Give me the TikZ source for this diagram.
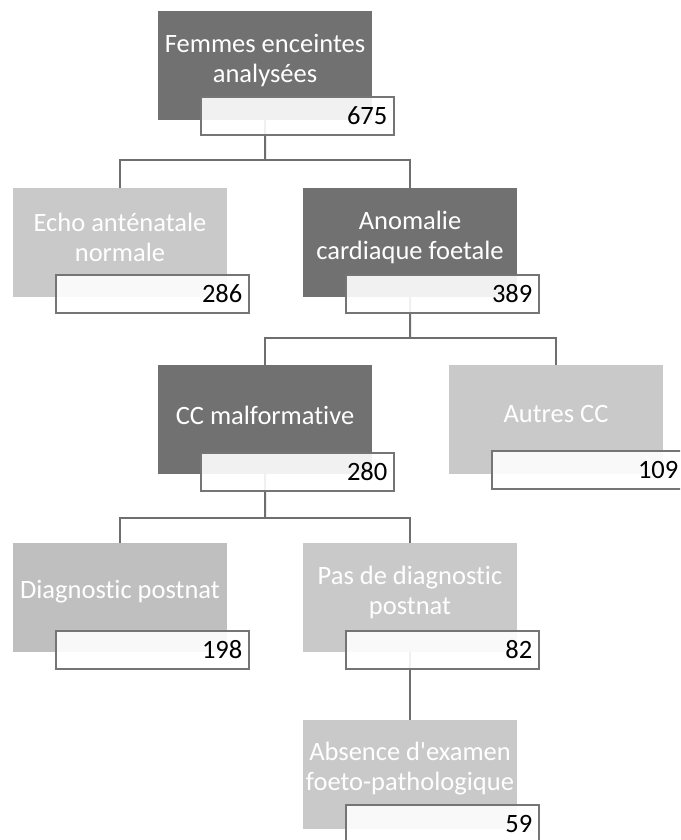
\documentclass[tikz,border=0pt]{standalone}
\usepackage{fontspec}
\setmainfont{Carlito}[Ligatures=NoCommon]
\newcommand\apos{\XeTeXglyph\XeTeXcharglyph"27\relax}
\definecolor{darkg}{HTML}{717171}
\definecolor{lightg}{HTML}{C9C9C9}
\definecolor{lightg2}{HTML}{BFBFBF}
\definecolor{lineg}{HTML}{6E6E6E}
\definecolor{numline}{HTML}{757575}
\tikzset{
  bigbox/.style={rectangle, anchor=north west, minimum width=214pt, minimum height=109pt, inner sep=0pt, draw=none},
  darkbox/.style={bigbox, fill=darkg},
  lightbox/.style={bigbox, fill=lightg},
  lightboxb/.style={bigbox, fill=lightg2},
  boxtext/.style={anchor=center, text=white, align=center, font=\fontsize{26.5}{30}\selectfont, inner sep=0pt},
  numbox/.style={rectangle, anchor=north west, minimum height=38pt, text width=180pt, inner xsep=6.5pt, inner ysep=0pt, align=right,
     fill=white, fill opacity=0.9, text opacity=1, draw=numline, draw opacity=1, line width=1.6pt, font=\fontsize{26.5}{30}\selectfont, text=black},
  conn/.style={draw=lineg, line width=2pt}
}
\begin{document}
\begin{tikzpicture}[x=1pt,y=-1pt]
\clip (0,0) rectangle (680,840);
\fill[white] (0,0) rectangle (680,840);
% bars
\coordinate (b1) at (265,160);
\coordinate (b2) at (410,338);
\coordinate (b3) at (265,518);
% big boxes (positions)
\node[darkbox] (n1) at (158,11) {};
\node[lightbox] (n2) at (13,188) {};
\node[darkbox] (n3) at (303,188) {};
\node[darkbox] (n4) at (158,365) {};
\node[lightbox] (n5) at (449,365) {};
\node[lightboxb] (n6) at (13,543) {};
\node[lightbox] (n7) at (303,543) {};
\node[lightbox] (n8) at (303,720) {};
% connectors
\draw[conn] (n1.center) -- (b1);
\draw[conn] (b1) -| (n2.north);
\draw[conn] (b1) -| (n3.north);
\draw[conn] (n3.center) -- (b2);
\draw[conn] (b2) -| (n4.north);
\draw[conn] (b2) -| (n5.north);
\draw[conn] (n4.center) -- (b3);
\draw[conn] (b3) -| (n6.north);
\draw[conn] (b3) -| (n7.north);
\draw[conn] (n7.center) -- (n8.north);
% redraw boxes above connectors
\fill[darkg] (n1.north west) rectangle (n1.south east);
\fill[lightg] (n2.north west) rectangle (n2.south east);
\fill[darkg] (n3.north west) rectangle (n3.south east);
\fill[darkg] (n4.north west) rectangle (n4.south east);
\fill[lightg] (n5.north west) rectangle (n5.south east);
\fill[lightg2] (n6.north west) rectangle (n6.south east);
\fill[lightg] (n7.north west) rectangle (n7.south east);
\fill[lightg] (n8.north west) rectangle (n8.south east);
% texts
\node[boxtext] (t1) at (265,61) {Femmes enceintes\\analysées};
\node[boxtext] (t2) at (120,237) {Echo anténatale\\normale};
\node[boxtext] (t3) at (410,237) {Anomalie\\cardiaque foetale};
\node[boxtext] (t4) at (265,415) {CC malformative};
\node[boxtext] (t5) at (556,414) {Autres CC};
\node[boxtext] (t6) at (120,592) {Diagnostic postnat};
\node[boxtext] (t7) at (410,592) {Pas de diagnostic\\postnat};
\node[boxtext] (t8) at (410,769) {Absence d\apos examen\\foeto-pathologique};
% number boxes
\node[numbox] (m1) at (200,96) {675};
\node[numbox] (m2) at (55,274) {286};
\node[numbox] (m3) at (345,274) {389};
\node[numbox] (m4) at (200,452) {280};
\node[numbox] (m5) at (491,450) {109};
\node[numbox] (m6) at (55,630) {198};
\node[numbox] (m7) at (345,630) {82};
\node[numbox] (m8) at (345,804) {59};
\end{tikzpicture}
\end{document}
